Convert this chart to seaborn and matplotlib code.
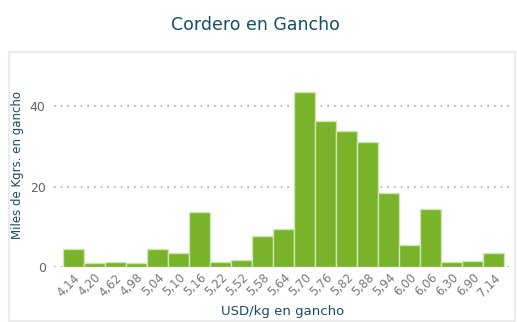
import matplotlib
matplotlib.use("Agg")
import matplotlib.pyplot as plt
import seaborn as sns
import pandas as pd
from matplotlib.patches import Rectangle

categories = ["4,14", "4,20", "4,62", "4,98", "5,04", "5,10", "5,16", "5,22", "5,52", "5,58",
              "5,64", "5,70", "5,76", "5,82", "5,88", "5,94", "6,00", "6,06", "6,30", "6,90", "7,14"]
values = [4.4, 0.9, 1.2, 1.1, 4.4, 3.4, 13.7, 1.2, 1.7, 7.6,
          9.4, 43.5, 36.3, 33.8, 31.1, 18.3, 5.5, 14.4, 1.2, 1.6, 3.4]
yticks = [0, 20, 40]

title = "Cordero en Gancho"
xlabel = "USD/kg en gancho"
ylabel = "Miles de Kgrs. en gancho"

sns.set_theme(style="white")
plt.rcParams['font.family'] = ['DejaVu Sans']

df = pd.DataFrame({"precio": categories, "kg": values})

W, H = 517, 322
fig = plt.figure(figsize=(W / 100, H / 100), dpi=100)
ax = fig.add_axes([54 / W, 1 - 267 / H, (512 - 54) / W, (267 - 58) / H])

# panel border
fig.patches.append(Rectangle((9 / W, 1 - 321 / H), (515 - 9) / W, (321 - 52) / H,
                             transform=fig.transFigure, fill=False,
                             edgecolor="#ececec", linewidth=1.5, zorder=0))

sns.barplot(data=df, x="precio", y="kg", ax=ax, color="#78b32a", saturation=1,
            width=1.0, edgecolor="#cfe6b4", linewidth=1.0, zorder=3)

ax.set_xlim(-0.93, 20.88)
ax.set_ylim(0, 52)
ax.set_yticks(yticks)
ax.set_yticklabels([str(t) for t in yticks], color="#666666", fontsize=9)
for t in yticks:
    ax.axhline(t, color="#aaaaaa", linestyle=(0, (1, 3)), linewidth=1.2, zorder=1)

ax.set_xticks(range(len(categories)))
ax.set_xticklabels(categories, rotation=45, ha="right", rotation_mode="anchor",
                   color="#777777", fontsize=8.5)
ax.tick_params(axis="both", length=0, pad=6)
ax.tick_params(axis="x", pad=3)
for s in ax.spines.values():
    s.set_visible(False)
ax.set_xlabel("")
ax.set_ylabel("")

fig.text(283 / W, 1 - 312 / H, xlabel, ha="center", va="center", color="#154e63", fontsize=9.5)
fig.text(18 / W, 1 - 165 / H, ylabel, ha="center", va="center", rotation=90,
         color="#154e63", fontsize=8.5)
fig.text(255 / W, 1 - 25 / H, title, ha="center", va="center", color="#154e63", fontsize=12.5)

fig.savefig("out.png", dpi=100, facecolor="white")
